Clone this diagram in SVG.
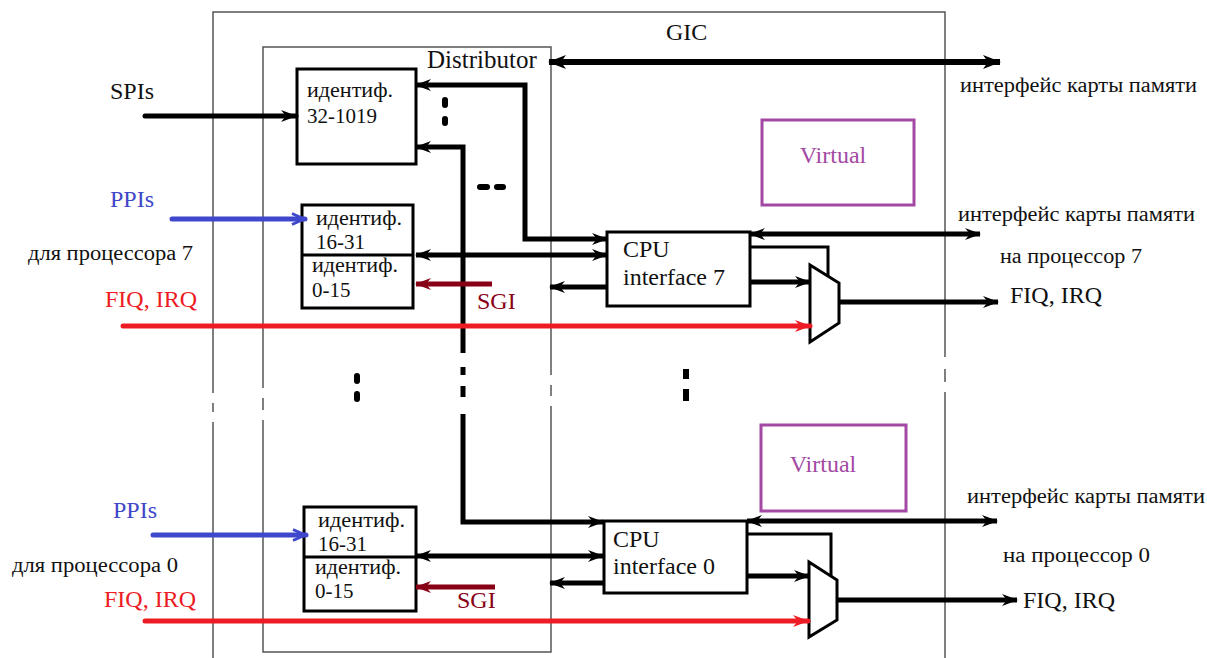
<svg xmlns="http://www.w3.org/2000/svg" width="1207" height="658" viewBox="0 0 1207 658">
<style>
text{font-family:"Liberation Serif","DejaVu Serif","Times New Roman",serif;fill:#111}
.t24{font-size:24px}
.t21{font-size:21px}
.cy{font-size:20px;font-family:"Liberation Serif","DejaVu Serif",serif}
.frame{fill:none;stroke:#555;stroke-width:1.5}
.box{fill:#fff;stroke:#000;stroke-width:3}
.mux{fill:#fff;stroke:#000;stroke-width:3;stroke-linejoin:miter}
.virt{fill:none;stroke:#a349a4;stroke-width:3}
.vtext{fill:#a349a4}
.blue{fill:#4047c8}
.red{fill:#ed1c24}
.sgi{fill:#880015}
.c{fill:none;stroke:#000;stroke-width:5}
.c6{fill:none;stroke:#000;stroke-width:6}
.c3{fill:none;stroke:#000;stroke-width:3}
.cb{fill:none;stroke:#3f48cc;stroke-width:5;stroke-linecap:round}
.cr{fill:none;stroke:#ed1c24;stroke-width:5;stroke-linecap:round}
.cs{fill:none;stroke:#880015;stroke-width:5}
.dot{stroke:#000;stroke-width:6;stroke-linecap:round}
.dotsq{stroke:#000;stroke-width:6}
</style>
<defs>
<marker id="ab" markerUnits="userSpaceOnUse" viewBox="0 0 16 12" markerWidth="16" markerHeight="12" refX="15" refY="6" orient="auto-start-reverse"><path d="M0,0 L16,6 L0,12 L5,6 z" fill="#000"/></marker>
<marker id="abig" markerUnits="userSpaceOnUse" viewBox="0 0 18 14" markerWidth="18" markerHeight="14" refX="17" refY="7" orient="auto-start-reverse"><path d="M0,0 L18,7 L0,14 L5,7 z" fill="#000"/></marker>
<marker id="ar" markerUnits="userSpaceOnUse" viewBox="0 0 16 12" markerWidth="16" markerHeight="12" refX="15" refY="6" orient="auto-start-reverse"><path d="M0,0 L16,6 L0,12 L5,6 z" fill="#ed1c24"/></marker>
<marker id="as" markerUnits="userSpaceOnUse" viewBox="0 0 16 12" markerWidth="16" markerHeight="12" refX="15" refY="6" orient="auto-start-reverse"><path d="M0,0 L16,6 L0,12 L5,6 z" fill="#880015"/></marker>
<marker id="abl" markerUnits="userSpaceOnUse" viewBox="0 0 16 14" markerWidth="16" markerHeight="14" refX="15" refY="7" orient="auto-start-reverse"><path d="M2,1.5 L14,7 L2,12.5" fill="none" stroke="#3f48cc" stroke-width="3"/></marker>
</defs>

<g id="gic">
<path class="frame" d="M213,658 V422 M213,412 V403 M213,393 V12 H945 V357 M945,369 V382 M945,392 V658"/>
<text class="t24" x="666" y="40">GIC</text>
</g>

<g id="distributor">
<path class="frame" d="M263,388 V47 H551 V375 M551,385 V396 M551,406 V652 H263 V420 M263,410 V398"/>
<text x="427" y="68" style="font-size:25px">Distributor</text>
</g>

<g id="ident-32-1019">
<rect class="box" x="297" y="69" width="119" height="95"/>
<text class="cy" x="307" y="97" textLength="86" lengthAdjust="spacingAndGlyphs">идентиф.</text>
<text class="t21" x="307" y="123">32-1019</text>
</g>

<g id="ident-p7">
<rect class="box" x="302" y="205" width="111" height="103"/>
<line x1="302" y1="255" x2="413" y2="255" stroke="#000" stroke-width="3"/>
<text class="cy" x="316" y="225" textLength="86" lengthAdjust="spacingAndGlyphs">идентиф.</text>
<text class="t21" x="316" y="249">16-31</text>
<text class="cy" x="312" y="272" textLength="86" lengthAdjust="spacingAndGlyphs">идентиф.</text>
<text class="t21" x="312" y="297">0-15</text>
</g>

<g id="ident-p0">
<rect class="box" x="304" y="507" width="112" height="104"/>
<line x1="304" y1="557" x2="416" y2="557" stroke="#000" stroke-width="3"/>
<text class="cy" x="318" y="527" textLength="87" lengthAdjust="spacingAndGlyphs">идентиф.</text>
<text class="t21" x="318" y="551">16-31</text>
<text class="cy" x="315" y="574" textLength="86" lengthAdjust="spacingAndGlyphs">идентиф.</text>
<text class="t21" x="315" y="598">0-15</text>
</g>

<g id="cpu7">
<rect class="box" x="607" y="232" width="143" height="74"/>
<text class="t24" x="623" y="257">CPU</text>
<text class="t24" x="623" y="285">interface 7</text>
</g>

<g id="cpu0">
<rect class="box" x="604" y="521" width="143" height="72"/>
<text class="t24" x="613" y="547">CPU</text>
<text class="t24" x="613" y="574">interface 0</text>
</g>

<g id="mux7"><polygon class="mux" points="810,265 839,283 839,323 810,342"/></g>
<g id="mux0"><polygon class="mux" points="809,562 837,580 837,620 809,637"/></g>

<g id="virtual7">
<rect class="virt" x="762" y="120" width="152" height="85"/>
<text class="t24 vtext" x="833" y="163" text-anchor="middle">Virtual</text>
</g>
<g id="virtual0">
<rect class="virt" x="761" y="425" width="145" height="86"/>
<text class="t24 vtext" x="823" y="472" text-anchor="middle">Virtual</text>
</g>

<g id="labels">
<text class="t24" x="110" y="99">SPIs</text>
<text class="t24 blue" x="110" y="207">PPIs</text>
<text class="cy" x="28" y="260" textLength="165" lengthAdjust="spacingAndGlyphs">для процессора 7</text>
<text class="t24 red" x="105" y="307">FIQ, IRQ</text>
<text class="t24 sgi" x="477" y="309">SGI</text>
<text class="t24 blue" x="113" y="518">PPIs</text>
<text class="cy" x="12" y="572" textLength="166" lengthAdjust="spacingAndGlyphs">для процессора 0</text>
<text class="t24 red" x="104" y="607">FIQ, IRQ</text>
<text class="t24 sgi" x="457" y="608">SGI</text>
<text class="cy" x="960" y="92" textLength="237" lengthAdjust="spacingAndGlyphs">интерфейс карты памяти</text>
<text class="cy" x="958" y="221" textLength="237" lengthAdjust="spacingAndGlyphs">интерфейс карты памяти</text>
<text class="cy" x="1000" y="263" textLength="142" lengthAdjust="spacingAndGlyphs">на процессор 7</text>
<text class="t24" x="1010" y="303">FIQ, IRQ</text>
<text class="cy" x="967" y="503" textLength="238" lengthAdjust="spacingAndGlyphs">интерфейс карты памяти</text>
<text class="cy" x="1003" y="562" textLength="147" lengthAdjust="spacingAndGlyphs">на процессор 0</text>
<text class="t24" x="1023" y="608">FIQ, IRQ</text>
</g>

<g id="connectors">
<path class="c" d="M145,116 H296" marker-end="url(#ab)" style="stroke-linecap:round"/>
<path class="c6" d="M549,62 H1000" marker-start="url(#abig)" marker-end="url(#abig)"/>
<path class="c" d="M607,239 H525 V85 H416" marker-start="url(#ab)" marker-end="url(#ab)"/>
<path class="c" d="M416,147 H463 V353" marker-start="url(#ab)"/>
<path class="c" d="M463,367 V375 M463,386 V397"/>
<path class="c" d="M463,414 V522 H603" marker-end="url(#ab)"/>
<path class="c" d="M416,255 H607" marker-start="url(#ab)" marker-end="url(#ab)"/>
<path class="c" d="M607,287 H550" marker-end="url(#ab)"/>
<path class="c" d="M750,234 H980" marker-start="url(#ab)" marker-end="url(#ab)"/>
<path class="c3" d="M750,247 H828 V277"/>
<path class="c" d="M750,282 H810" marker-end="url(#ab)"/>
<path class="c" d="M839,302 H998" marker-end="url(#ab)"/>
<path class="c" d="M416,556 H603" marker-start="url(#ab)" marker-end="url(#ab)"/>
<path class="c" d="M604,583 H550" marker-end="url(#ab)"/>
<path class="c" d="M747,521 H997" marker-start="url(#ab)" marker-end="url(#ab)"/>
<path class="c3" d="M747,534 H831 V577"/>
<path class="c" d="M747,576 H809" marker-end="url(#ab)"/>
<path class="c" d="M837,600 H1017" marker-end="url(#ab)"/>
<path class="cs" d="M492,284 H416" marker-end="url(#as)"/>
<path class="cs" d="M495,587 H416" marker-end="url(#as)"/>
<path class="cb" d="M172,219 H305" marker-end="url(#abl)"/>
<path class="cb" d="M153,535 H306" marker-end="url(#abl)"/>
<path class="cr" d="M123,326 H810" marker-end="url(#ar)"/>
<path class="cr" d="M145,621 H808" marker-end="url(#ar)"/>
<line class="dot" x1="445" y1="100" x2="445" y2="105"/>
<line class="dot" x1="445" y1="119" x2="445" y2="123"/>
<line class="dot" x1="480" y1="187" x2="487" y2="187"/>
<line class="dot" x1="497" y1="187" x2="503" y2="187"/>
<line class="dot" x1="357" y1="376" x2="357" y2="381"/>
<line class="dot" x1="357" y1="394" x2="357" y2="399"/>
<line class="dotsq" x1="686" y1="369" x2="686" y2="379"/>
<line class="dotsq" x1="686" y1="389" x2="686" y2="401"/>
</g>
</svg>
